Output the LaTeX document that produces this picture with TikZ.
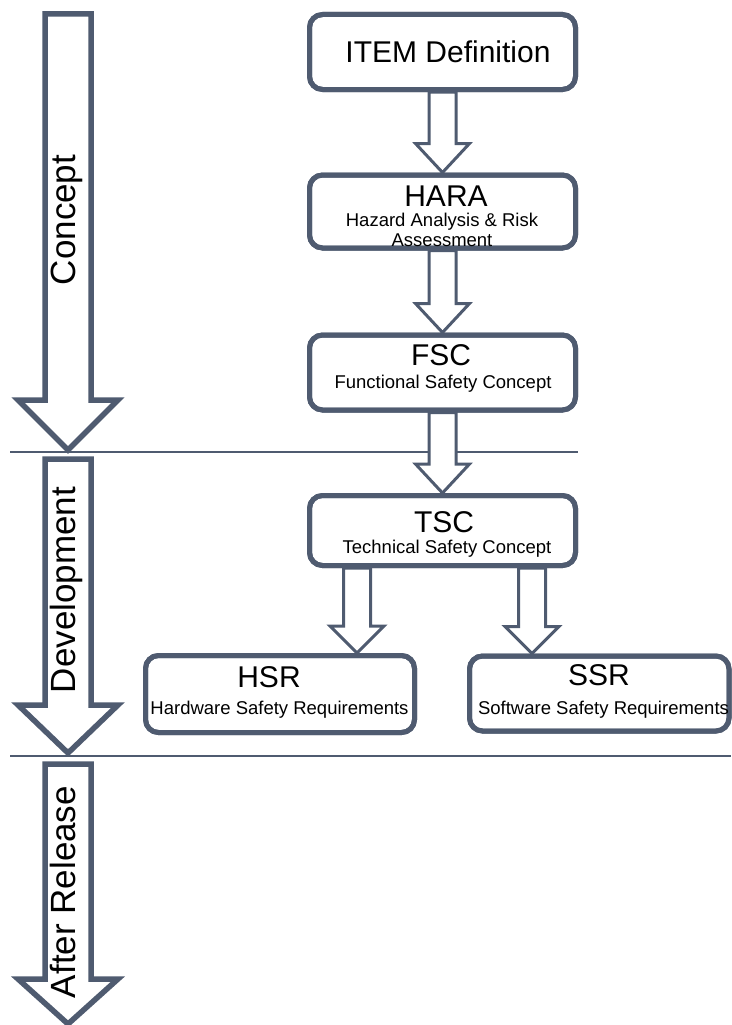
\documentclass[tikz,border=0pt]{standalone}
\usepackage{fontspec}
\setmainfont{Liberation Sans}
\usetikzlibrary{calc}
\definecolor{slate}{RGB}{79,91,112}

% Hollow downward block arrow: #1 style, #2 top centre, #3 tip,
% #4 shaft half width, #5 head half width, #6 head length (all in pt)
\newcommand\blockdown[6]{%
  \draw[#1] let \p1=(#2), \p2=(#3) in
    (\x1-#4pt,\y1) -- (\x1-#4pt,\y2+#6pt) -- (\x1-#5pt,\y2+#6pt) -- (\x2,\y2)
    -- (\x1+#5pt,\y2+#6pt) -- (\x1+#4pt,\y2+#6pt) -- (\x1+#4pt,\y1) -- cycle;}

\begin{document}
\begin{tikzpicture}[x=1pt,y=1pt,
  box/.style={draw=slate, line width=5pt, rounded corners=13pt, fill=white, inner sep=0pt},
  phasearrow/.style={draw=slate, line width=5.5pt, fill=white, line join=miter},
  flowarrow/.style={draw=slate, line width=3pt, fill=white, line join=miter},
  divider/.style={draw=slate, line width=2pt},
  title/.style={anchor=base, font=\fontsize{30}{36}\selectfont, inner sep=0pt},
  subtitle/.style={anchor=base, font=\fontsize{18.5}{22}\selectfont, inner sep=0pt},
  phase/.style={anchor=base, rotate=90, font=\fontsize{35}{40}\selectfont, inner sep=0pt}]
\useasboundingbox (0,0) rectangle (731,-1025);

% phase dividers
\coordinate (d1a) at (10,-452);  \coordinate (d1b) at (578,-452);
\coordinate (d2a) at (10,-756);  \coordinate (d2b) at (731,-756);
\draw[divider] (d1a) -- (d1b);
\draw[divider] (d2a) -- (d2b);

% phase arrows
\coordinate (cTop) at (68,-14);  \coordinate (cTip) at (68,-450);
\coordinate (dTop) at (68,-459); \coordinate (dTip) at (68,-753);
\coordinate (rTop) at (68,-764); \coordinate (rTip) at (68,-1024);
\blockdown{phasearrow}{cTop}{cTip}{23}{50}{50}
\blockdown{phasearrow}{dTop}{dTip}{23}{50}{48}
\blockdown{phasearrow}{rTop}{rTip}{23}{50}{45}
\node[phase] (concept) at (75,-220) {Concept};
\node[phase] (develop) at (75,-590) {Development};
\node[phase] (release) at (75,-892) {After Release};

% boxes (drawn empty first so the arrows can be placed between them)
\node[box, minimum width=266pt, minimum height=75pt] (ITEM) at (442.5,-52) {};
\node[box, minimum width=266pt, minimum height=73pt] (HARA) at (442.5,-211.5) {};
\node[box, minimum width=266pt, minimum height=75pt] (FSC)  at (442.5,-372.5) {};
\node[box, minimum width=266pt, minimum height=70pt] (TSC)  at (442.5,-530.5) {};
\node[box, minimum width=269pt, minimum height=77pt] (HSR)  at (280,-694) {};
\node[box, minimum width=259.5pt, minimum height=75pt] (SSR) at (599.25,-693.5) {};

% flow arrows between the boxes
\coordinate (hsrLane) at (357,0);
\coordinate (ssrLane) at (532,0);
\blockdown{flowarrow}{ITEM.south}{HARA.north}{13.5}{27}{29}
\blockdown{flowarrow}{HARA.south}{FSC.north}{13.5}{27}{29}
\blockdown{flowarrow}{FSC.south}{TSC.north}{13.5}{27}{29}
\blockdown{flowarrow}{TSC.south -| hsrLane}{HSR.north -| hsrLane}{13.5}{27}{27}
\blockdown{flowarrow}{TSC.south -| ssrLane}{SSR.north -| ssrLane}{13.5}{27}{27}

% redraw box outlines on top of arrow tips
\foreach \b in {ITEM,HARA,FSC,TSC,HSR,SSR}{
  \draw[draw=slate, line width=5pt, rounded corners=13pt]
    (\b.south west) ++(2.5pt,2.5pt) rectangle ([shift={(-2.5pt,-2.5pt)}]\b.north east);
}

% box texts
\node[title]    (itemT) at (448,-63)   {ITEM Definition};
\node[title]    (haraT) at (446,-206)  {HARA};
\node[subtitle] (haraS1) at (442,-226) {Hazard Analysis \& Risk};
\node[subtitle] (haraS2) at (442,-246) {Assessment};
\node[title]    (fscT)  at (441,-365)  {FSC};
\node[subtitle] (fscS)  at (443,-388)  {Functional Safety Concept};
\node[title]    (tscT)  at (444,-532)  {TSC};
\node[subtitle] (tscS)  at (447,-553)  {Technical Safety Concept};
\node[title]    (hsrT)  at (269,-687)  {HSR};
\node[subtitle] (hsrS)  at (279.5,-714) {Hardware Safety Requirements};
\node[title]    (ssrT)  at (599,-685)  {SSR};
\node[subtitle] (ssrS)  at (603.5,-714) {Software Safety Requirements};
\end{tikzpicture}
\end{document}
